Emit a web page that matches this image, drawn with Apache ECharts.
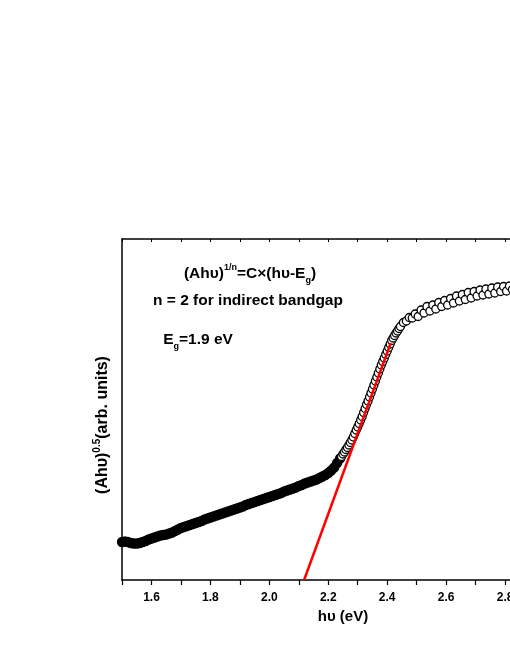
<!DOCTYPE html>
<html>
<head>
<meta charset="utf-8">
<script src="https://cdn.jsdelivr.net/npm/echarts@6/dist/echarts.min.js"></script>
<style>html,body{margin:0;padding:0;background:#fff;overflow:hidden;}#chart{width:600px;height:660px;}</style>
</head>
<body>
<div id="chart"></div>
<script>
// Dense low-energy part (drawn as solid band)
var lowE = [1.50,1.51,1.52,1.53,1.54,1.55,1.56,1.57,1.58,1.59,1.60,1.61,1.62,1.63,1.64,1.65,1.66,1.67,1.68,1.69,
  1.70,1.71,1.72,1.73,1.74,1.75,1.76,1.77,1.78,1.79,1.80,1.81,1.82,1.83,1.84,1.85,1.86,1.87,1.88,1.89,
  1.90,1.91,1.92,1.93,1.94,1.95,1.96,1.97,1.98,1.99,2.00,2.01,2.02,2.03,2.04,2.05,2.06,2.07,2.08,2.09,
  2.10,2.11,2.12,2.13,2.14,2.15,2.16,2.17,2.18,2.19,2.20,2.21,2.22,2.23,2.24];
var lowY = [38,38.5,38,37,36.5,36.5,37,38,39,40.5,41.5,42.5,43.5,44.5,45,45.5,46.5,47.5,49,50.5,
  52,53,54,55,56,57,58,59,60.5,61.5,62.5,63.5,64.5,65.5,66.5,67.5,68.5,69.5,70.5,71.5,
  72.5,73.5,75,76,77,78,79,80,81,82,83,84,85,86,87,88.5,89.5,90.5,91.5,92.5,
  94,95,96.5,97.5,98.5,99.5,100.5,102,103.5,105,107,109.5,112.5,117,121.5];
// Absorption edge and plateau (open circles)
var highE = [2.245,2.25,2.255,2.26,2.265,2.27,2.275,2.28,2.285,2.29,2.295,2.30,2.305,2.31,2.315,2.32,2.325,2.33,2.335,2.34,
  2.345,2.35,2.355,2.36,2.365,2.37,2.375,2.38,2.385,2.39,2.395,2.40,2.405,2.41,2.415,2.42,2.425,2.43,2.435,2.44,2.445,
  2.455,2.465,2.475,2.485,2.495,2.505,2.515,2.525,2.535,2.545,2.555,2.565,2.575,2.585,2.595,2.605,2.615,2.625,2.635,
  2.645,2.655,2.665,2.675,2.685,2.695,2.705,2.715,2.725,2.735,2.745,2.755,2.765,2.775,2.785,2.795,2.805,2.815,2.825,2.835,2.845];
var highY = [123.5,126,128,130.5,132.5,135,137.5,140,143,146.5,150,153,156.5,160,163.5,167.5,171.5,175.5,179,183,
  187,191,195,199,203,207,211,215,218.5,222,225.5,229,232.5,236,239.5,242,244.5,247,249,251.5,253.5,
  257.5,259,262.5,262,266,263.5,270,267,273.5,269,275,271,277.5,273.5,279.5,275,281.5,277,284,279,
  285.5,280.5,287.5,282,288.5,284,290,285,291,286,292,287,293,288.5,293.5,289,294,290.5,294.5,290,293];
// Linear fit for the band gap extrapolation
var fitE = [2.118, 2.412];
var fitY = [0, 237];

function zip(a, b) { var r = []; for (var i = 0; i < a.length; i++) r.push([a[i], b[i]]); return r; }

var FONT = 'Liberation Sans, Arial, sans-serif';
var chart = echarts.init(document.getElementById('chart'), null, {renderer: 'canvas', width: 600, height: 660});
var txt = {fontSize: 15.5, fontWeight: 'bold', fontFamily: FONT, color: '#000'};
var sup = {fontSize: 9, fontWeight: 'bold', fontFamily: FONT, color: '#000', padding: [0, 0, 12, 0]};
var sub = {fontSize: 9, fontWeight: 'bold', fontFamily: FONT, color: '#000', padding: [14, 0, 0, 0]};

chart.setOption({
  animation: false,
  backgroundColor: '#fff',
  grid: {left: 122, top: 239, width: 442, height: 341, containLabel: false, outerBoundsMode: 'none'},
  xAxis: [{
    type: 'value', min: 1.5, max: 3.0, interval: 0.1, position: 'bottom',
    axisLine: {show: true, onZero: false, lineStyle: {color: '#000', width: 1.5}},
    axisTick: {show: true, inside: false, length: 5, lineStyle: {color: '#000', width: 1.2}},
    axisLabel: {
      fontSize: 12, fontWeight: 'bold', fontFamily: FONT, color: '#000', margin: 12,
      formatter: function (v) { var k = Math.round(v * 10); return (k % 2 === 0) ? (k / 10).toFixed(1) : ''; }
    },
    splitLine: {show: false},
    name: 'hυ (eV)', nameLocation: 'middle', nameGap: 23,
    nameTextStyle: {fontSize: 15, fontWeight: 'bold', fontFamily: FONT, color: '#000'}
  }, {
    type: 'value', min: 1.5, max: 3.0, interval: 0.1, position: 'top',
    axisLine: {show: true, onZero: false, lineStyle: {color: '#000', width: 1.5}},
    axisTick: {show: true, inside: true, length: 3, lineStyle: {color: '#000', width: 1}},
    axisLabel: {show: false}, splitLine: {show: false}
  }],
  yAxis: {
    type: 'value', min: 0, max: 341,
    axisLine: {show: true, onZero: false, lineStyle: {color: '#000', width: 1.5}},
    axisTick: {show: false}, axisLabel: {show: false}, splitLine: {show: false}
  },
  graphic: [
    {type: 'text', x: 250, y: 274, z: 100, style: {
      text: '{t|(Ahυ)}{s|1/n}{t|=C×(hυ-E}{b|g}{t|)}', align: 'center', verticalAlign: 'middle',
      rich: {t: txt, s: sup, b: sub}}},
    {type: 'text', x: 248, y: 301, z: 100, style: {
      text: 'n = 2 for indirect bandgap', align: 'center', verticalAlign: 'middle',
      fontSize: 15.5, fontWeight: 'bold', fontFamily: FONT, fill: '#000'}},
    {type: 'text', x: 198, y: 340, z: 100, style: {
      text: '{t|E}{b|g}{t|=1.9 eV}', align: 'center', verticalAlign: 'middle',
      rich: {t: txt, b: sub}}},
    {type: 'text', x: 103, y: 425, rotation: Math.PI / 2, z: 100, style: {
      text: '{t|(Ahυ)}{s|0.5}{t|(arb. units)}', align: 'center', verticalAlign: 'middle',
      rich: {
        t: {fontSize: 16, fontWeight: 'bold', fontFamily: FONT, color: '#000'},
        s: {fontSize: 10, fontWeight: 'bold', fontFamily: FONT, color: '#000', padding: [0, 0, 12, 0]}
      }}}
  ],
  series: [
    {type: 'scatter', data: zip(lowE, lowY), symbol: 'circle', symbolSize: 9, xAxisIndex: 0,
     itemStyle: {color: '#000', borderColor: '#000', borderWidth: 1.3, opacity: 1}, z: 2},
    {type: 'scatter', data: zip(highE, highY), symbol: 'circle', symbolSize: 8, xAxisIndex: 0,
     itemStyle: {color: '#fff', borderColor: '#000', borderWidth: 1.3, opacity: 1}, z: 3},
    {type: 'line', data: zip(fitE, fitY), showSymbol: false, symbol: 'none', xAxisIndex: 0,
     lineStyle: {color: '#ff0000', width: 2.5}, z: 4}
  ]
});
</script>
</body>
</html>
